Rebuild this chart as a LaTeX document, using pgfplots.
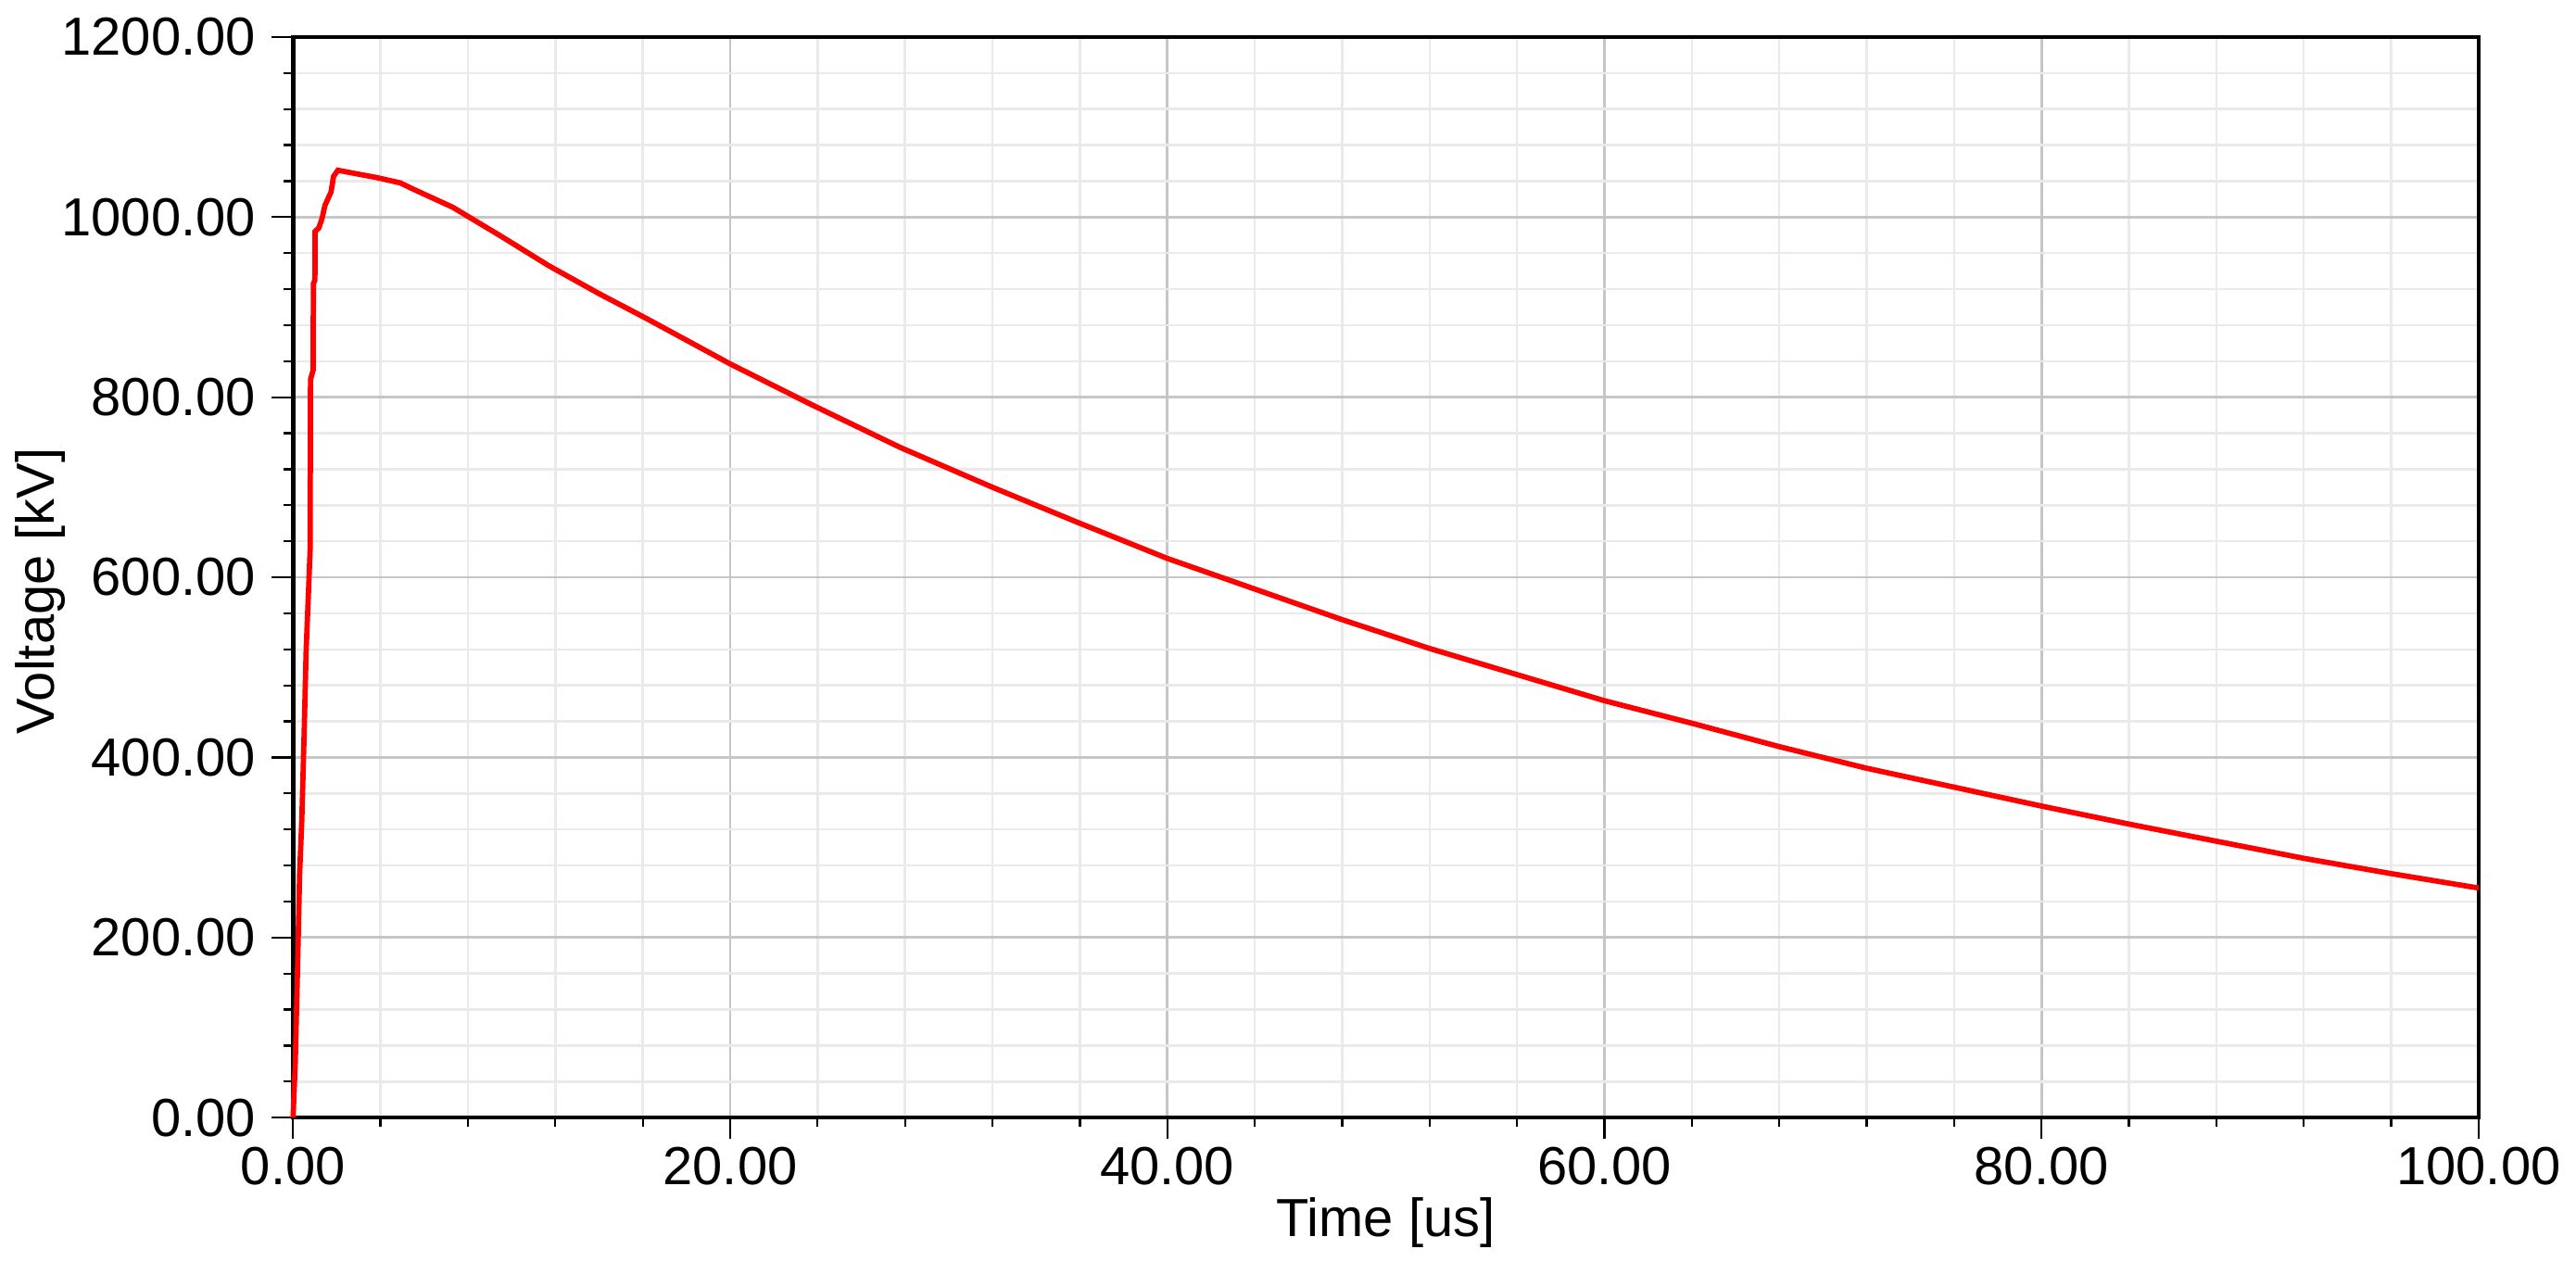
\documentclass[border=0pt]{standalone}
\usepackage{fontspec}
\setmainfont{Liberation Sans}
\usepackage{pgfplots}
\pgfplotsset{compat=1.18}
\definecolor{majgrid}{HTML}{C6C6C6}
\definecolor{mingrid}{HTML}{EAEAEA}
\begin{document}
\begin{tikzpicture}
\begin{axis}[
  scale only axis,
  width=472.8pt, height=233.8pt,
  xmin=0, xmax=100, ymin=0, ymax=1200,
  xtick={0,20,...,100}, ytick={0,200,...,1200},
  minor x tick num=4, minor y tick num=4,
  grid=both,
  major grid style={majgrid, line width=0.55pt},
  minor grid style={mingrid, line width=0.5pt},
  tick align=outside,
  xtick pos=left, ytick pos=left,
  major tick length=4.6pt, minor tick length=2pt,
  every tick/.style={black, line width=0.45pt},
  axis line style={black, line width=0.9pt},
  /pgf/number format/fixed,
  /pgf/number format/fixed zerofill,
  /pgf/number format/precision=2,
  /pgf/number format/1000 sep={},
  /pgf/number format/assume math mode=true,
  ticklabel style={font=\fontsize{11.6}{13}\selectfont},
  xticklabel style={yshift=1.8pt},
  label style={font=\fontsize{11.6}{13}\selectfont},
  xlabel={Time [us]}, ylabel={Voltage [kV]},
  xlabel style={at={(axis description cs:0.5,0)}, anchor=north, yshift=-17.2pt, inner sep=0pt},
  ylabel style={at={(axis description cs:0,0.5)}, anchor=center, yshift=54.6pt, xshift=-3pt, inner sep=0pt},
  clip=false,
]
\addplot[red, line width=1.15pt] coordinates {
(0,0) (0.1,60) (0.2,160) (0.3,270) (0.4,330) (0.5,420) (0.6,520) (0.7,580) (0.78,630)
(0.8,820) (0.92,830) (0.93,926) (1.0,930) (1.01,984) (1.18,988) (1.32,998) (1.46,1013)
(1.74,1028) (1.85,1045) (2.05,1052) (2.7,1049) (3.8,1044) (4.9,1038) (5.5,1031)
(7.3,1011) (9.5,979) (11.7,946) (14,915) (16.2,887) (20,837) (23.7,792) (27.8,744)
(32,700) (36,660) (40,621) (44,587) (48,553) (52,521) (56,492) (60,463) (64,438)
(68,412) (72,388) (76,367) (80,346) (84,326) (88,307) (92,288) (96,271) (100,255)
};
\end{axis}
\path (current axis.south west) ++(-63.4pt,-31.2pt) coordinate (bbA);
\path (current axis.north east) ++(19.8pt,8pt) coordinate (bbB);
\useasboundingbox (bbA) rectangle (bbB);
\end{tikzpicture}
\end{document}
